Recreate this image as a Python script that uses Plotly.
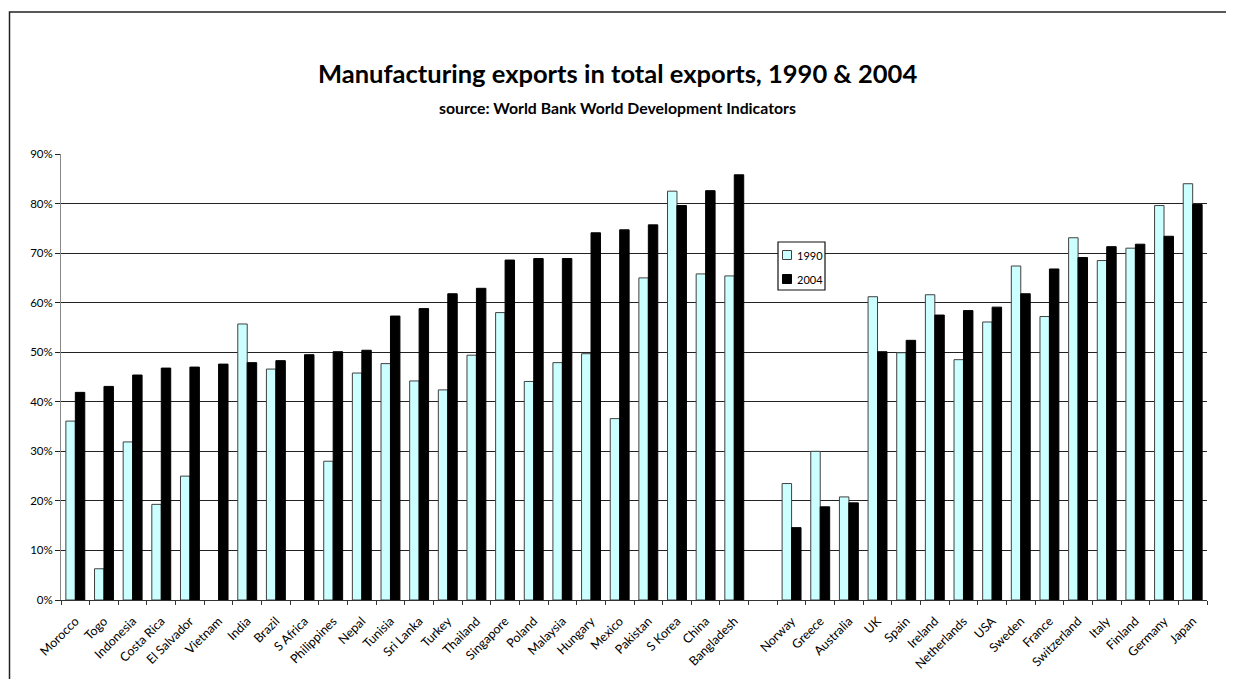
import plotly.graph_objects as go

countries = ["Morocco", "Togo", "Indonesia", "Costa Rica", "El Salvador", "Vietnam", "India",
             "Brazil", "S Africa", "Philippines", "Nepal", "Tunisia", "Sri Lanka", "Turkey",
             "Thailand", "Singapore", "Poland", "Malaysia", "Hungary", "Mexico", "Pakistan",
             "S Korea", "China", "Bangladesh", " ", "Norway", "Greece", "Australia", "UK",
             "Spain", "Ireland", "Netherlands", "USA", "Sweden", "France", "Switzerland",
             "Italy", "Finland", "Germany", "Japan"]

v1990 = [0.361, 0.063, 0.319, 0.193, 0.250, None, 0.557, 0.466, None, 0.280, 0.458, 0.477,
         0.442, 0.424, 0.494, 0.580, 0.441, 0.479, 0.497, 0.366, 0.650, 0.825, 0.658, 0.654,
         None, 0.235, 0.300, 0.208, 0.612, 0.499, 0.616, 0.485, 0.561, 0.674, 0.572, 0.731,
         0.685, 0.710, 0.796, 0.840]

v2004 = [0.419, 0.431, 0.454, 0.468, 0.470, 0.476, 0.479, 0.483, 0.495, 0.501, 0.504, 0.573,
         0.588, 0.618, 0.629, 0.686, 0.689, 0.689, 0.741, 0.747, 0.757, 0.796, 0.826, 0.858,
         None, 0.146, 0.188, 0.196, 0.501, 0.524, 0.575, 0.584, 0.591, 0.618, 0.668, 0.691,
         0.713, 0.718, 0.734, 0.798]

series_names = ["1990", "2004"]
series_colors = ["#CCFFFF", "#000000"]
series_lines = ["#404040", "#000000"]

FONT = "Lato"
OFF = 8  # default page body margin
W, H = 1234 - OFF, 679 - OFF
L, T = 61 - OFF, 154 - OFF
R = W - (1207 - OFF)
B = H - (600 - OFF)
pw, ph = W - L - R, H - T - B

def px(x):
    return (x - OFF - L) / pw

def py(y):
    return (H - B - (y - OFF)) / ph

fig = go.Figure()
for name, vals, col, lc in zip(series_names, [v1990, v2004], series_colors, series_lines):
    fig.add_trace(go.Bar(x=countries, y=vals, name=name,
                         marker=dict(color=col, line=dict(color=lc, width=1))))

shapes = [dict(type="rect", xref="paper", yref="paper",
               x0=px(9.5), y0=py(12), x1=px(1300), y1=py(760),
               line=dict(color="#222", width=1.5), fillcolor="rgba(0,0,0,0)", layer="below"),
          dict(type="rect", xref="paper", yref="paper",
               x0=px(778), y0=py(242), x1=px(825), y1=py(290),
               line=dict(color="#111", width=1.2), fillcolor="white", layer="above")]
annotations = [
    dict(text="<b>Manufacturing exports in total exports, 1990 & 2004</b>",
         xref="paper", yref="paper", x=px(617), y=py(73), xanchor="center", yanchor="middle",
         showarrow=False, font=dict(family=FONT, size=25.5, color="black")),
    dict(text="<b>source: World Bank World Development Indicators</b>",
         xref="paper", yref="paper", x=px(617), y=py(107), xanchor="center", yanchor="middle",
         showarrow=False, font=dict(family=FONT, size=15.8, color="black")),
]
for i, (name, col, lc) in enumerate(zip(series_names, series_colors, series_lines)):
    yc = 255 + 24 * i
    shapes.append(dict(type="rect", xref="paper", yref="paper",
                       x0=px(782.5), y0=py(yc - 4.5), x1=px(791.5), y1=py(yc + 4.5),
                       line=dict(color=lc, width=1), fillcolor=col, layer="above"))
    annotations.append(dict(text=name, xref="paper", yref="paper", x=px(795), y=py(yc),
                            xanchor="left", yanchor="middle", showarrow=False,
                            font=dict(family=FONT, size=11, color="black")))

fig.update_layout(
    width=W, height=H,
    margin=dict(l=L, r=R, t=T, b=B, autoexpand=False),
    paper_bgcolor="white", plot_bgcolor="white",
    barmode="group", bargap=0.34, bargroupgap=0,
    font=dict(family=FONT, color="black", size=11),
    showlegend=False,
    xaxis=dict(type="category", tickangle=-45, tickfont=dict(size=12.5, family=FONT),
               ticks="outside", tickson="boundaries", ticklen=4, tickcolor="#333",
               ticklabelstandoff=8,
               showline=True, linecolor="#333", linewidth=1, showgrid=False, automargin=False),
    yaxis=dict(range=[0, 0.9], dtick=0.1, tickformat=".0%", tickfont=dict(size=11.5, family=FONT),
               showgrid=True, gridcolor="#222", gridwidth=1,
               ticks="outside", ticklen=5, tickcolor="#222",
               showline=True, linecolor="#888", linewidth=1, zeroline=False, automargin=False),
    shapes=shapes,
    annotations=annotations,
)

fig.write_html("out.html")
